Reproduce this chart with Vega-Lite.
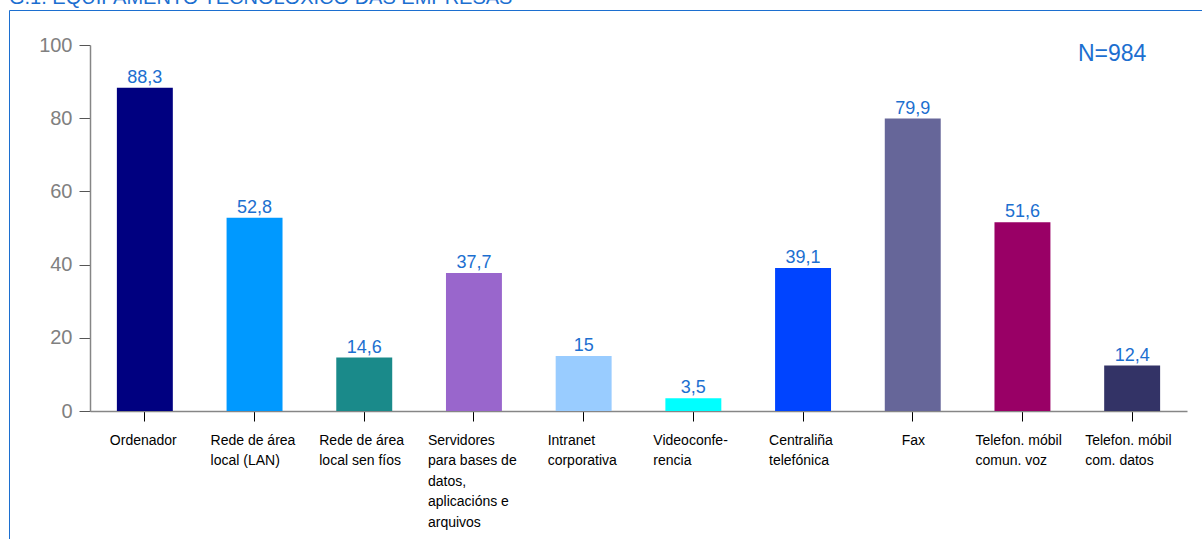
{
  "$schema": "https://vega.github.io/schema/vega-lite/v6.json",
  "width": 1200,
  "height": 540,
  "autosize": {"type": "none"},
  "padding": {"left": 9, "top": 10, "right": 0, "bottom": 0},
  "background": "white",
  "title": {
    "text": "G.1. EQUIPAMENTO TECNOLÓXICO DAS EMPRESAS",
    "anchor": "start",
    "frame": "group",
    "baseline": "alphabetic",
    "offset": 3,
    "dy": 17,
    "font": "Liberation Sans",
    "fontSize": 20,
    "fontWeight": "normal",
    "color": "#1c6fd0"
  },
  "config": {
    "view": {"stroke": "#1c6fd0", "strokeWidth": 1},
    "locale": {"number": {"decimal": ",", "thousands": ".", "grouping": [3], "currency": ["", " €"]}},
    "font": "Liberation Sans"
  },
  "data": {
    "values": [
      {"cat": "Ordenador", "value": 88.3, "color": "#000080"},
      {"cat": "Rede de área|local (LAN)", "value": 52.8, "color": "#0099ff"},
      {"cat": "Rede de área|local sen fíos", "value": 14.6, "color": "#1a8a8a"},
      {"cat": "Servidores|para bases de|datos,|aplicacións e|arquivos", "value": 37.7, "color": "#9966cc"},
      {"cat": "Intranet|corporativa", "value": 15, "color": "#99ccff"},
      {"cat": "Videoconfe-|rencia", "value": 3.5, "color": "#00ffff"},
      {"cat": "Centraliña|telefónica", "value": 39.1, "color": "#0044ff"},
      {"cat": "Fax", "value": 79.9, "color": "#666699"},
      {"cat": "Telefon. móbil|comun. voz", "value": 51.6, "color": "#990066"},
      {"cat": "Telefon. móbil|com. datos", "value": 12.4, "color": "#333366"}
    ]
  },
  "encoding": {
    "x": {
      "field": "cat",
      "type": "nominal",
      "sort": null,
      "scale": {"range": [81, 1178], "paddingInner": 0.49, "paddingOuter": 0.245},
      "axis": {
        "title": null,
        "orient": "bottom",
        "offset": -139,
        "labelExpr": "split(datum.label, '|')",
        "labelAngle": 0,
        "labelAlign": "left",
        "labelBaseline": "top",
        "labelFontSize": 14,
        "labelLineHeight": 20.5,
        "labelColor": "#000000",
        "labelPadding": 12,
        "labelOffset": {
          "condition": [
            {"test": "datum.value === 'Ordenador'", "value": -35},
            {"test": "datum.value === 'Rede de área|local (LAN)'", "value": -44},
            {"test": "datum.value === 'Rede de área|local sen fíos'", "value": -45},
            {"test": "datum.value === 'Servidores|para bases de|datos,|aplicacións e|arquivos'", "value": -46},
            {"test": "datum.value === 'Intranet|corporativa'", "value": -36},
            {"test": "datum.value === 'Videoconfe-|rencia'", "value": -40},
            {"test": "datum.value === 'Centraliña|telefónica'", "value": -34},
            {"test": "datum.value === 'Fax'", "value": -11},
            {"test": "datum.value === 'Telefon. móbil|comun. voz'", "value": -47}
          ],
          "value": -47
        },
        "labelLimit": 200,
        "domainColor": "#868686",
        "domainWidth": 1.5,
        "tickColor": "#000000",
        "tickSize": 10,
        "tickWidth": 1,
        "grid": false
      }
    }
  },
  "layer": [
    {
      "mark": {"type": "bar"},
      "encoding": {
        "y": {
          "field": "value",
          "type": "quantitative",
          "scale": {"domain": [0, 100], "range": [401, 35], "nice": false},
          "axis": {
            "title": null,
            "orient": "left",
            "offset": -81,
            "values": [0, 20, 40, 60, 80, 100],
            "grid": false,
            "labelFontSize": 20,
            "labelColor": "#808080",
            "labelPadding": 7,
            "domainColor": "#868686",
            "domainWidth": 1.5,
            "tickColor": "#555555",
            "tickSize": 11,
            "tickWidth": 1
          }
        },
        "color": {"field": "color", "type": "nominal", "scale": null}
      }
    },
    {
      "mark": {"type": "text", "baseline": "alphabetic", "dy": -5, "fontSize": 18, "color": "#1c6fd0"},
      "encoding": {
        "y": {"field": "value", "type": "quantitative"},
        "text": {"field": "value", "type": "quantitative", "format": ".1~f"}
      }
    },
    {
      "data": {"values": [{"cat": "Telefon. móbil|com. datos", "y": 95.6, "label": "N=984"}]},
      "mark": {"type": "text", "baseline": "alphabetic", "align": "center", "dx": -20, "fontSize": 23, "color": "#1c6fd0"},
      "encoding": {
        "y": {"field": "y", "type": "quantitative"},
        "text": {"field": "label"}
      }
    }
  ]
}
